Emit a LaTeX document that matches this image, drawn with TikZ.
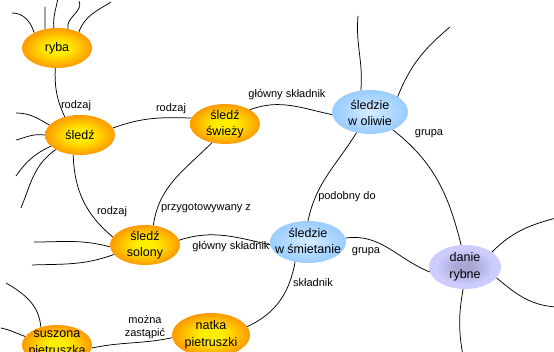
\documentclass[tikz,border=0pt]{standalone}
\usepackage{fontspec}
\setmainfont{Liberation Sans}
\usetikzlibrary{shapes.geometric}
\definecolor{orIn}{HTML}{FFEE00}
\definecolor{orMid}{HTML}{FFCC00}
\definecolor{orOut}{HTML}{FF9900}
\definecolor{blIn}{HTML}{D8EEFF}
\definecolor{blOut}{HTML}{99CCFF}
\definecolor{viIn}{HTML}{A8A8D4}
\definecolor{viOut}{HTML}{CCCCFF}
\pgfdeclareradialshading{orsh}{\pgfpoint{0bp}{0bp}}{color(0bp)=(orIn); color(7bp)=(orIn); color(15bp)=(orMid); color(25bp)=(orOut); color(50bp)=(orOut)}
\pgfdeclareradialshading{blsh}{\pgfpoint{0bp}{0bp}}{color(0bp)=(blIn); color(10bp)=(blIn!55!blOut); color(25bp)=(blOut); color(50bp)=(blOut)}
\pgfdeclareradialshading{vish}{\pgfpoint{0bp}{0bp}}{color(0bp)=(viIn); color(6bp)=(viIn); color(20bp)=(viOut); color(50bp)=(viOut)}
\begin{document}
\begin{tikzpicture}[x=1pt,y=-1pt,
  bub/.style={ellipse, inner sep=0pt, minimum width=70pt, minimum height=40pt},
  orb/.style={bub, shading=orsh},
  blb/.style={bub, shading=blsh, minimum width=76pt, minimum height=44pt},
  vib/.style={bub, shading=vish, minimum width=72pt, minimum height=44pt},
  btxt/.style={align=center, inner sep=0pt, font=\fontsize{12.5}{16.5}\selectfont},
  lbl/.style={align=center, inner sep=0pt, font=\fontsize{11}{13}\selectfont},
  con/.style={line width=0.75pt},
]
\useasboundingbox (0,0) rectangle (554,352);

% bubbles
\node[orb] (ryba) at (57,48) {};
\node[orb] (sledz) at (80,135) {};
\node[orb] (fresh) at (225,124) {};
\node[blb] (oliwie) at (370,112) {};
\node[orb] (solony) at (145,245) {};
\node[blb, minimum height=42pt] (smiet) at (308,242) {};
\node[vib] (danie) at (465,267) {};
\node[orb, minimum width=78pt, minimum height=44pt] (natka) at (211,335) {};
\node[orb] (suszona) at (57,345) {};

% bubble texts
\node[btxt] (t-ryba) at (ryba) {ryba};
\node[btxt] (t-sledz) at (sledz) {śledź};
\node[btxt] (t-fresh) at (fresh) {śledź\\świeży};
\node[btxt] (t-oliwie) at (370,113) {śledzie\\w oliwie};
\node[btxt] (t-solony) at (solony) {śledź\\solony};
\node[btxt] (t-smiet) at (308,241) {śledzie\\w śmietanie};
\node[btxt] (t-danie) at (danie) {danie\\rybne};
\node[btxt] (t-natka) at (natka) {natka\\pietruszki};
\node[btxt] (t-suszona) at (57,344) {suszona\\pietruszka};

% connectors between bubbles
\draw[con] (ryba.-95) to[out=-92,in=115] (sledz.130);
\draw[con] (sledz.12) to[out=20,in=178] (fresh.170);
\draw[con] (fresh.30) to[out=20,in=168] (oliwie.184);
\draw[con] (sledz.-109) to[out=-88,in=140] (solony.166);
\draw[con] (fresh.-125) to[out=-135,in=82] (solony.67);
\draw[con] (oliwie.-123) to[out=-122,in=78] (smiet.90);
\draw[con] (oliwie.-38) to[out=-38,in=104] (danie.100);
\draw[con] (solony.8) to[out=18,in=168] (smiet.184);
\draw[con] (smiet.6) to[out=8,in=158] (danie.188);
\draw[con] (smiet.-123) to[out=-100,in=25] (natka.13);
\draw[con] (natka.184) to[out=-168,in=12] (suszona.-5);

% free ends
\coordinate (r1) at (12,13);
\coordinate (r2) at (45,7);
\coordinate (r3) at (58,-2);
\coordinate (r4) at (79,1);
\coordinate (r5) at (111,2);
\coordinate (s1) at (16,113);
\coordinate (s2) at (16,140);
\coordinate (s3) at (16,176);
\coordinate (s4) at (21,208);
\coordinate (o1) at (34,242);
\coordinate (o2) at (32,265);
\coordinate (u1) at (6,283);
\coordinate (u2) at (1,328);
\coordinate (u3) at (14,358);
\coordinate (w1) at (358,16);
\coordinate (w2) at (450,27);
\coordinate (d1) at (556,218);
\coordinate (d2) at (556,307);
\coordinate (d3) at (463,356);

\draw[con] (ryba.146) to[out=108,in=0] (r1);
\draw[con] (ryba.122) -- (r2);
\draw[con] (ryba.99) to[out=95,in=-100] (r3);
\draw[con] (ryba.60) to[out=105,in=-65] (r4);
\draw[con] (ryba.36) to[out=70,in=-148] (r5);
\draw[con] (sledz.162) to[out=150,in=0] (s1);
\draw[con] (sledz.180) to[out=172,in=15] (s2);
\draw[con] (sledz.201) to[out=205,in=55] (s3);
\draw[con] (sledz.211) to[out=215,in=68] (s4);
\draw[con] (solony.183) to[out=165,in=0] (o1);
\draw[con] (solony.197) to[out=200,in=2] (o2);
\draw[con] (suszona.132) to[out=95,in=-30] (u1);
\draw[con] (suszona.165) to[out=160,in=-12] (u2);
\draw[con] (suszona.205) -- (u3);
\draw[con] (oliwie.113) to[out=85,in=-95] (w1);
\draw[con] (oliwie.29) to[out=68,in=-140] (w2);
\draw[con] (danie.29) to[out=45,in=195] (d1);
\draw[con] (danie.-19) to[out=-40,in=176] (d2);
\draw[con] (danie.-95) to[out=-100,in=100] (d3);

% connector labels
\node[lbl] (l1) at (76,106) {rodzaj};
\node[lbl] (l2) at (171,109) {rodzaj};
\node[lbl] (l3) at (287,95) {główny składnik};
\node[lbl] (l4) at (429,134) {grupa};
\node[lbl] (l5) at (112,212) {rodzaj};
\node[lbl] (l6) at (206,208) {przygotowywany z};
\node[lbl] (l7) at (347,197) {podobny do};
\node[lbl] (l8) at (231,247) {główny składnik};
\node[lbl] (l9) at (366,252) {grupa};
\node[lbl] (l10) at (313,283) {składnik};
\node[lbl] (l11) at (145,327) {można\\zastąpić};
\end{tikzpicture}
\end{document}
